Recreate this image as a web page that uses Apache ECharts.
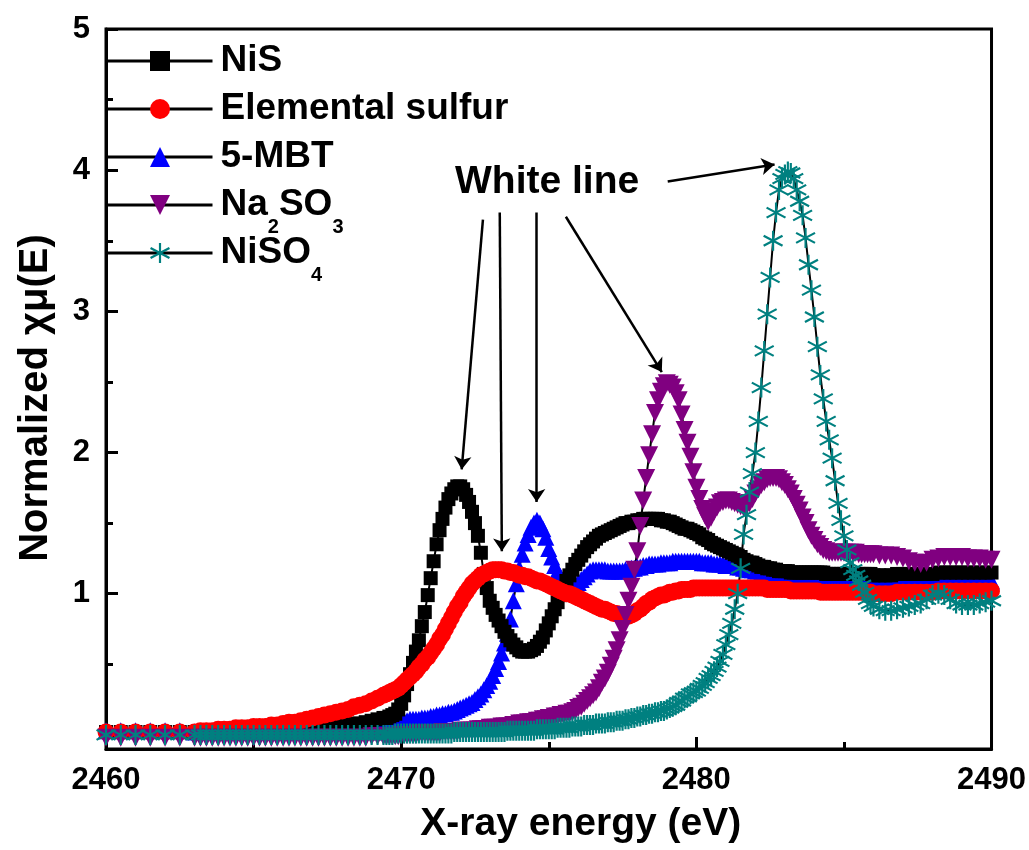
<!DOCTYPE html>
<html lang="en">
<head>
    <meta charset="UTF-8">
    <title>S K-edge XANES</title>
    <script src="https://cdn.jsdelivr.net/npm/echarts@6.0.0/dist/echarts.min.js"></script>
    <style>
        body { margin: 0; background: #fff; }
    </style>
</head>
<body>
<div id="main" style="width:1029px;height:850px;"></div>

<script type="text/javascript">
    // photon energy (eV), shared by all five spectra (finer step across the edge)
    var energy = [
        2460, 2460.5, 2461, 2461.5, 2462, 2462.5,
        2463, 2463.2, 2463.4, 2463.6, 2463.8,
        2464, 2464.2, 2464.4, 2464.6, 2464.8,
        2465, 2465.2, 2465.4, 2465.6, 2465.8,
        2466, 2466.2, 2466.4, 2466.6, 2466.8,
        2467, 2467.2, 2467.4, 2467.6, 2467.8,
        2468, 2468.2, 2468.4, 2468.6, 2468.8,
        2469, 2469.2, 2469.4,
        2469.5, 2469.6, 2469.7, 2469.8, 2469.9,
        2470, 2470.1, 2470.2, 2470.3, 2470.4, 2470.5, 2470.6, 2470.7, 2470.8, 2470.9,
        2471, 2471.1, 2471.2, 2471.3, 2471.4, 2471.5, 2471.6, 2471.7, 2471.8, 2471.9,
        2472, 2472.1, 2472.2, 2472.3, 2472.4, 2472.5, 2472.6, 2472.7, 2472.8, 2472.9,
        2473, 2473.1, 2473.2, 2473.3, 2473.4, 2473.5, 2473.6, 2473.7, 2473.8, 2473.9,
        2474, 2474.1, 2474.2, 2474.3, 2474.4, 2474.5, 2474.6, 2474.7, 2474.8, 2474.9,
        2475, 2475.1, 2475.2, 2475.3, 2475.4, 2475.5, 2475.6, 2475.7, 2475.8, 2475.9,
        2476, 2476.1, 2476.2, 2476.3, 2476.4, 2476.5, 2476.6, 2476.7, 2476.8, 2476.9,
        2477, 2477.1, 2477.2, 2477.3, 2477.4, 2477.5, 2477.6, 2477.7, 2477.8, 2477.9,
        2478, 2478.1, 2478.2, 2478.3, 2478.4, 2478.5, 2478.6, 2478.7, 2478.8, 2478.9,
        2479, 2479.1, 2479.2, 2479.3, 2479.4, 2479.5, 2479.6, 2479.7, 2479.8, 2479.9,
        2480, 2480.1, 2480.2, 2480.3, 2480.4, 2480.5, 2480.6, 2480.7, 2480.8, 2480.9,
        2481, 2481.1, 2481.2, 2481.3, 2481.4, 2481.5, 2481.6, 2481.7, 2481.8, 2481.9,
        2482, 2482.1, 2482.2, 2482.3, 2482.4, 2482.5, 2482.6, 2482.7, 2482.8, 2482.9,
        2483, 2483.1, 2483.2, 2483.3, 2483.4, 2483.5, 2483.6, 2483.7, 2483.8, 2483.9,
        2484, 2484.1, 2484.2, 2484.3, 2484.4, 2484.5, 2484.6, 2484.7, 2484.8, 2484.9,
        2485, 2485.1, 2485.2, 2485.3, 2485.4, 2485.5, 2485.6, 2485.7, 2485.8, 2485.9,
        2486, 2486.2, 2486.4, 2486.6, 2486.8,
        2487, 2487.2, 2487.4, 2487.6, 2487.8,
        2488, 2488.2, 2488.4, 2488.6, 2488.8,
        2489, 2489.2, 2489.4, 2489.6, 2489.8,
        2490
    ];

    // normalized absorption, rows follow the energy rows above
    var nis = [
        0.02, 0.02, 0.02, 0.02, 0.02, 0.02,
        0.02, 0.02, 0.02, 0.02, 0.02,
        0.02, 0.03, 0.03, 0.03, 0.03,
        0.03, 0.03, 0.03, 0.04, 0.04,
        0.04, 0.04, 0.04, 0.05, 0.05,
        0.05, 0.05, 0.06, 0.06, 0.06,
        0.07, 0.07, 0.08, 0.08, 0.09,
        0.10, 0.11, 0.12,
        0.12, 0.13, 0.14, 0.15, 0.18,
        0.22, 0.28, 0.36, 0.43, 0.51, 0.59, 0.67, 0.77, 0.87, 0.99,
        1.11, 1.23, 1.35, 1.45, 1.53, 1.61, 1.67, 1.71, 1.74, 1.76,
        1.76, 1.74, 1.70, 1.65, 1.58, 1.50, 1.41, 1.29, 1.14, 1.04,
        0.95, 0.90, 0.85, 0.81, 0.77, 0.73, 0.70, 0.67, 0.64, 0.62,
        0.60, 0.59, 0.59, 0.59, 0.60, 0.61, 0.63, 0.66, 0.69, 0.74,
        0.79, 0.84, 0.89, 0.94, 0.99, 1.04, 1.09, 1.13, 1.17, 1.21,
        1.24, 1.27, 1.30, 1.33, 1.35, 1.37, 1.39, 1.41, 1.42, 1.43,
        1.44, 1.45, 1.46, 1.47, 1.48, 1.49, 1.50, 1.50, 1.51, 1.51,
        1.52, 1.52, 1.53, 1.53, 1.53, 1.53, 1.53, 1.53, 1.52, 1.52,
        1.51, 1.51, 1.50, 1.49, 1.48, 1.47, 1.46, 1.46, 1.45, 1.44,
        1.43, 1.42, 1.40, 1.39, 1.38, 1.36, 1.35, 1.34, 1.33, 1.32,
        1.31, 1.30, 1.29, 1.28, 1.27, 1.26, 1.24, 1.23, 1.22, 1.22,
        1.21, 1.20, 1.19, 1.19, 1.18, 1.18, 1.17, 1.17, 1.16, 1.16,
        1.16, 1.16, 1.15, 1.15, 1.15, 1.15, 1.15, 1.15, 1.15, 1.15,
        1.15, 1.15, 1.15, 1.15, 1.14, 1.14, 1.14, 1.14, 1.14, 1.14,
        1.14, 1.14, 1.14, 1.14, 1.14, 1.14, 1.14, 1.14, 1.14, 1.14,
        1.13, 1.13, 1.13, 1.13, 1.14,
        1.14, 1.14, 1.14, 1.14, 1.14,
        1.14, 1.15, 1.15, 1.15, 1.15,
        1.15, 1.15, 1.15, 1.15, 1.15,
        1.15
    ];

    var sulfur = [
        0.02, 0.02, 0.02, 0.02, 0.02, 0.02,
        0.02, 0.03, 0.03, 0.03, 0.04,
        0.04, 0.04, 0.05, 0.05, 0.05,
        0.06, 0.06, 0.06, 0.07, 0.07,
        0.08, 0.09, 0.09, 0.10, 0.11,
        0.12, 0.13, 0.14, 0.15, 0.16,
        0.17, 0.18, 0.20, 0.21, 0.22,
        0.24, 0.26, 0.28,
        0.29, 0.30, 0.31, 0.32, 0.33,
        0.35, 0.37, 0.39, 0.41, 0.43, 0.45, 0.48, 0.50, 0.53, 0.55,
        0.58, 0.61, 0.64, 0.68, 0.71, 0.75, 0.79, 0.83, 0.87, 0.91,
        0.94, 0.98, 1.01, 1.04, 1.07, 1.09, 1.11, 1.13, 1.14, 1.15,
        1.16, 1.17, 1.17, 1.17, 1.17, 1.16, 1.16, 1.15, 1.15, 1.14,
        1.13, 1.13, 1.12, 1.12, 1.11, 1.10, 1.09, 1.09, 1.08, 1.07,
        1.06, 1.05, 1.04, 1.03, 1.02, 1.01, 1.00, 1.00, 0.99, 0.98,
        0.97, 0.96, 0.95, 0.94, 0.93, 0.92, 0.91, 0.90, 0.89, 0.89,
        0.88, 0.87, 0.86, 0.86, 0.85, 0.84, 0.84, 0.84, 0.85, 0.86,
        0.88, 0.89, 0.91, 0.93, 0.94, 0.96, 0.97, 0.98, 0.99, 0.99,
        1.00, 1.01, 1.01, 1.02, 1.02, 1.03, 1.03, 1.03, 1.03, 1.04,
        1.04, 1.04, 1.04, 1.04, 1.04, 1.04, 1.04, 1.04, 1.04, 1.04,
        1.04, 1.04, 1.04, 1.04, 1.04, 1.04, 1.04, 1.04, 1.04, 1.04,
        1.04, 1.04, 1.04, 1.04, 1.03, 1.03, 1.03, 1.03, 1.03, 1.03,
        1.03, 1.03, 1.02, 1.02, 1.02, 1.02, 1.02, 1.02, 1.02, 1.02,
        1.02, 1.02, 1.01, 1.01, 1.01, 1.01, 1.01, 1.01, 1.01, 1.01,
        1.01, 1.01, 1.01, 1.01, 1.01, 1.01, 1.01, 1.01, 1.01, 1.01,
        1.00, 1.00, 1.00, 1.00, 1.01,
        1.01, 1.01, 1.01, 1.01, 1.01,
        1.01, 1.02, 1.02, 1.02, 1.02,
        1.02, 1.02, 1.02, 1.02, 1.02,
        1.02
    ];

    var mbt = [
        0.03, 0.03, 0.03, 0.03, 0.03, 0.03,
        0.02, 0.02, 0.02, 0.02, 0.02,
        0.02, 0.02, 0.02, 0.02, 0.02,
        0.02, 0.02, 0.02, 0.02, 0.02,
        0.02, 0.02, 0.02, 0.02, 0.03,
        0.03, 0.03, 0.03, 0.03, 0.04,
        0.04, 0.04, 0.05, 0.05, 0.06,
        0.06, 0.07, 0.07,
        0.08, 0.08, 0.08, 0.09, 0.09,
        0.10, 0.10, 0.10, 0.11, 0.11, 0.11, 0.11, 0.12, 0.12, 0.12,
        0.13, 0.13, 0.14, 0.14, 0.15, 0.15, 0.16, 0.16, 0.17, 0.18,
        0.19, 0.20, 0.21, 0.22, 0.23, 0.25, 0.27, 0.29, 0.32, 0.35,
        0.38, 0.42, 0.47, 0.52, 0.58, 0.65, 0.72, 0.82, 0.95, 1.07,
        1.18, 1.28, 1.36, 1.42, 1.47, 1.50, 1.52, 1.50, 1.46, 1.40,
        1.32, 1.26, 1.20, 1.16, 1.12, 1.10, 1.08, 1.07, 1.07, 1.07,
        1.08, 1.10, 1.12, 1.14, 1.16, 1.17, 1.17, 1.17, 1.17, 1.17,
        1.16, 1.16, 1.16, 1.16, 1.16, 1.16, 1.17, 1.17, 1.18, 1.18,
        1.19, 1.19, 1.20, 1.20, 1.21, 1.21, 1.21, 1.21, 1.22, 1.22,
        1.22, 1.22, 1.23, 1.23, 1.23, 1.23, 1.23, 1.23, 1.23, 1.23,
        1.23, 1.23, 1.22, 1.22, 1.22, 1.22, 1.21, 1.21, 1.21, 1.21,
        1.20, 1.20, 1.20, 1.20, 1.19, 1.19, 1.18, 1.18, 1.17, 1.17,
        1.16, 1.16, 1.15, 1.15, 1.14, 1.14, 1.13, 1.13, 1.12, 1.12,
        1.11, 1.11, 1.11, 1.11, 1.10, 1.10, 1.10, 1.10, 1.10, 1.10,
        1.09, 1.09, 1.09, 1.09, 1.09, 1.09, 1.09, 1.09, 1.09, 1.09,
        1.09, 1.09, 1.09, 1.09, 1.09, 1.09, 1.09, 1.09, 1.09, 1.09,
        1.08, 1.08, 1.08, 1.08, 1.08,
        1.08, 1.08, 1.08, 1.08, 1.08,
        1.08, 1.08, 1.09, 1.09, 1.09,
        1.09, 1.09, 1.09, 1.09, 1.09,
        1.09
    ];

    var sulfite = [
        -0.02, -0.02, -0.02, -0.02, -0.02, -0.02,
        -0.02, -0.02, -0.02, -0.02, -0.02,
        -0.02, -0.02, -0.02, -0.02, -0.02,
        -0.02, -0.02, -0.02, -0.02, -0.02,
        -0.02, -0.02, -0.02, -0.02, -0.02,
        -0.02, -0.02, -0.02, -0.02, -0.02,
        -0.02, -0.02, -0.02, -0.02, -0.02,
        -0.01, -0.01, -0.01,
        -0.01, -0.01, -0.01, -0.01, -0.01,
        0.00, 0.00, 0.00, 0.00, 0.00, 0.00, 0.01, 0.01, 0.01, 0.01,
        0.01, 0.01, 0.01, 0.01, 0.02, 0.02, 0.02, 0.02, 0.02, 0.02,
        0.03, 0.03, 0.03, 0.03, 0.03, 0.03, 0.04, 0.04, 0.04, 0.04,
        0.05, 0.05, 0.05, 0.05, 0.06, 0.06, 0.06, 0.06, 0.07, 0.07,
        0.08, 0.08, 0.08, 0.09, 0.09, 0.09, 0.10, 0.10, 0.11, 0.11,
        0.12, 0.12, 0.13, 0.13, 0.14, 0.14, 0.15, 0.15, 0.16, 0.17,
        0.19, 0.20, 0.22, 0.24, 0.26, 0.28, 0.30, 0.33, 0.37, 0.40,
        0.44, 0.49, 0.54, 0.60, 0.67, 0.75, 0.85, 0.95, 1.05, 1.17,
        1.30, 1.48, 1.66, 1.82, 1.98, 2.13, 2.28, 2.37, 2.43, 2.47,
        2.49, 2.48, 2.46, 2.42, 2.37, 2.27, 2.16, 2.07, 1.97, 1.86,
        1.75, 1.67, 1.60, 1.55, 1.51, 1.54, 1.58, 1.61, 1.64, 1.65,
        1.66, 1.66, 1.65, 1.64, 1.63, 1.62, 1.61, 1.62, 1.64, 1.67,
        1.71, 1.74, 1.77, 1.79, 1.81, 1.82, 1.82, 1.82, 1.81, 1.79,
        1.77, 1.74, 1.71, 1.67, 1.63, 1.59, 1.54, 1.50, 1.45, 1.41,
        1.38, 1.35, 1.33, 1.31, 1.30, 1.29, 1.29, 1.29, 1.29, 1.29,
        1.29, 1.29, 1.29, 1.29, 1.29, 1.28, 1.28, 1.28, 1.28, 1.28,
        1.28, 1.27, 1.27, 1.27, 1.26,
        1.25, 1.23, 1.22, 1.21, 1.22,
        1.24, 1.25, 1.26, 1.26, 1.26,
        1.26, 1.25, 1.25, 1.25, 1.24,
        1.24
    ];

    var sulfate = [
        0.00, 0.00, 0.00, 0.00, 0.00, 0.00,
        0.00, 0.00, 0.00, 0.00, 0.00,
        0.00, 0.00, 0.00, 0.00, 0.00,
        0.00, 0.00, 0.00, 0.00, 0.00,
        0.00, 0.00, 0.00, 0.00, 0.00,
        0.00, 0.00, 0.00, 0.00, 0.00,
        0.00, 0.00, 0.00, 0.00, 0.00,
        0.00, 0.00, 0.00,
        0.00, 0.00, 0.00, 0.01, 0.01,
        0.01, 0.01, 0.01, 0.01, 0.01, 0.01, 0.01, 0.01, 0.01, 0.01,
        0.01, 0.01, 0.01, 0.01, 0.01, 0.01, 0.01, 0.01, 0.02, 0.02,
        0.02, 0.02, 0.02, 0.02, 0.02, 0.02, 0.02, 0.02, 0.02, 0.02,
        0.02, 0.02, 0.02, 0.02, 0.02, 0.02, 0.03, 0.03, 0.03, 0.03,
        0.03, 0.03, 0.03, 0.03, 0.03, 0.03, 0.04, 0.04, 0.04, 0.04,
        0.04, 0.04, 0.04, 0.05, 0.05, 0.05, 0.05, 0.05, 0.06, 0.06,
        0.06, 0.06, 0.07, 0.07, 0.07, 0.07, 0.08, 0.08, 0.08, 0.08,
        0.09, 0.09, 0.09, 0.10, 0.10, 0.10, 0.11, 0.11, 0.12, 0.12,
        0.13, 0.13, 0.14, 0.14, 0.15, 0.15, 0.16, 0.16, 0.17, 0.17,
        0.18, 0.19, 0.20, 0.21, 0.23, 0.24, 0.26, 0.27, 0.29, 0.30,
        0.31, 0.33, 0.35, 0.37, 0.40, 0.42, 0.45, 0.48, 0.52, 0.57,
        0.64, 0.71, 0.79, 0.89, 1.00, 1.18, 1.42, 1.56, 1.72, 1.85,
        2.00, 2.22, 2.46, 2.72, 2.98, 3.24, 3.50, 3.70, 3.86, 3.94,
        3.97, 3.99, 3.98, 3.94, 3.86, 3.78, 3.68, 3.52, 3.33, 3.15,
        2.96, 2.75, 2.55, 2.38, 2.22, 2.09, 1.96, 1.80, 1.64, 1.52,
        1.41, 1.31, 1.22, 1.17, 1.13, 1.09, 1.06, 1.01, 0.96, 0.93,
        0.91, 0.89, 0.88, 0.88, 0.89,
        0.90, 0.91, 0.92, 0.93, 0.96,
        0.99, 1.00, 0.99, 0.96, 0.93,
        0.92, 0.92, 0.92, 0.93, 0.94,
        0.95
    ];

    var seriesNames = ['NiS', 'Elemental sulfur', '5-MBT', 'Na2SO3', 'NiSO4'];
    var legendLabels = {
        'NiS': 'NiS',
        'Elemental sulfur': 'Elemental sulfur',
        '5-MBT': '5-MBT',
        'Na2SO3': 'Na{sub|2}SO{sub|3}',
        'NiSO4': 'NiSO{sub|4}'
    };

    var yLabelValues = [1, 2, 3, 4, 5];
    var yMajorTicks = [0, 1, 2, 3, 4, 5];
    var yMinorTicks = [0.5, 1.5, 2.5, 3.5, 4.5];

    // "White line" arrows: [fromE, fromY, toE, toY]
    var arrows = [
        [2472.77, 3.65, 2472.05, 1.88],
        [2473.34, 3.70, 2473.41, 1.30],
        [2474.59, 3.70, 2474.59, 1.65],
        [2475.58, 3.67, 2478.83, 2.57],
        [2479.03, 3.92, 2482.65, 4.04]
    ];

    var FONT = '"Liberation Sans", Arial, sans-serif';
    var asterisk = 'path://M-0.1,-1L0.1,-1L0.1,1L-0.1,1Z' +
        'M0.92,0.41L0.82,0.59L-0.92,-0.41L-0.82,-0.59Z' +
        'M0.82,-0.59L0.92,-0.41L-0.82,0.59L-0.92,0.41Z';

    function pairs(vals) {
        return energy.map(function (e, i) { return [e, vals[i]]; });
    }

    function spectrum(name, vals, symbol, size, color, rotate) {
        return {
            name: name,
            type: 'line',
            data: pairs(vals),
            symbol: symbol,
            symbolSize: size,
            symbolRotate: rotate || 0,
            showAllSymbol: true,
            itemStyle: { color: color },
            lineStyle: { color: '#000', width: 2 },
            emphasis: { disabled: true },
            animation: false
        };
    }

    var myChart = echarts.init(document.getElementById('main'));

    var option = {
        backgroundColor: '#fff',
        animation: false,
        grid: {
            left: 106, right: 37, top: 29, bottom: 101,
            show: true, borderColor: '#000', borderWidth: 3
        },
        legend: {
            data: seriesNames,
            orient: 'vertical',
            left: 106,
            top: 29,
            padding: 0,
            itemGap: -16,
            itemWidth: 105,
            itemHeight: 25,
            selectedMode: false,
            lineStyle: { width: 3 },
            formatter: function (name) { return legendLabels[name]; },
            textStyle: {
                fontFamily: FONT, fontWeight: 'bold', fontSize: 37, color: '#000',
                lineHeight: 64, padding: [0, 0, 0, 3],
                rich: {
                    sub: {
                        fontFamily: FONT, fontWeight: 'bold', fontSize: 20, color: '#000',
                        lineHeight: 20, verticalAlign: 'bottom'
                    }
                }
            }
        },
        xAxis: {
            type: 'value',
            min: 2460, max: 2490, interval: 10,
            name: 'X-ray energy (eV)',
            nameLocation: 'middle',
            nameGap: 56,
            nameMoveOverlap: false,
            nameTextStyle: {
                fontFamily: FONT, fontWeight: 'bold', fontSize: 39, color: '#000',
                padding: [0, 0, 0, 64]
            },
            axisLine: { show: true, onZero: false, lineStyle: { color: '#000', width: 3 } },
            axisTick: { inside: true, length: 12, lineStyle: { color: '#000', width: 3 } },
            minorTick: { show: true, splitNumber: 2, length: 7, lineStyle: { color: '#000', width: 3 } },
            axisLabel: {
                fontFamily: FONT, fontWeight: 'bold', fontSize: 31, color: '#000', margin: 16,
                formatter: function (v) { return String(v); }
            },
            splitLine: { show: false }
        },
        yAxis: [{
            type: 'value',
            min: -0.1, max: 5,
            position: 'left',
            name: 'Normalized χμ(E)',
            nameLocation: 'middle',
            nameGap: 50,
            nameRotate: 90,
            nameMoveOverlap: false,
            nameTextStyle: {
                fontFamily: FONT, fontWeight: 'bold', fontSize: 40, color: '#000',
                padding: [0, 18, 0, 0]
            },
            axisLine: { show: true, onZero: false, lineStyle: { color: '#000', width: 3 } },
            axisTick: { inside: true, length: 12, customValues: yMajorTicks, lineStyle: { color: '#000', width: 3 } },
            axisLabel: { customValues: yLabelValues, fontFamily: FONT, fontWeight: 'bold', fontSize: 31, color: '#000', margin: 16 },
            splitLine: { show: false }
        }, {
            type: 'value',
            min: -0.1, max: 5,
            position: 'left',
            offset: 0,
            axisLine: { show: false },
            axisTick: { show: true, inside: true, length: 7, customValues: yMinorTicks, lineStyle: { color: '#000', width: 3 } },
            axisLabel: { show: false },
            splitLine: { show: false }
        }],
        series: [
            spectrum('5-MBT', mbt, 'triangle', 17, '#0000ff'),
            spectrum('NiS', nis, 'rect', 14, '#000000'),
            spectrum('Elemental sulfur', sulfur, 'circle', 17, '#ff0000'),
            spectrum('Na2SO3', sulfite, 'triangle', 18, '#800080', 180),
            spectrum('NiSO4', sulfate, asterisk, 20, '#008080'),
            {
                name: 'arrows',
                type: 'line',
                data: [],
                silent: true,
                markLine: {
                    silent: true,
                    animation: false,
                    symbol: ['none', 'arrow'],
                    symbolSize: 13,
                    label: { show: false },
                    lineStyle: { color: '#000', width: 2.5, type: 'solid' },
                    emphasis: { disabled: true },
                    data: arrows.map(function (a) {
                        return [{ coord: [a[0], a[1]] }, { coord: [a[2], a[3]] }];
                    })
                }
            }
        ],
        graphic: [{
            type: 'text',
            x: 455,
            y: 182,
            style: {
                text: 'White line',
                fill: '#000',
                font: 'bold 39px ' + FONT,
                verticalAlign: 'middle'
            }
        }]
    };

    myChart.setOption(option);
</script>

</body>
</html>
